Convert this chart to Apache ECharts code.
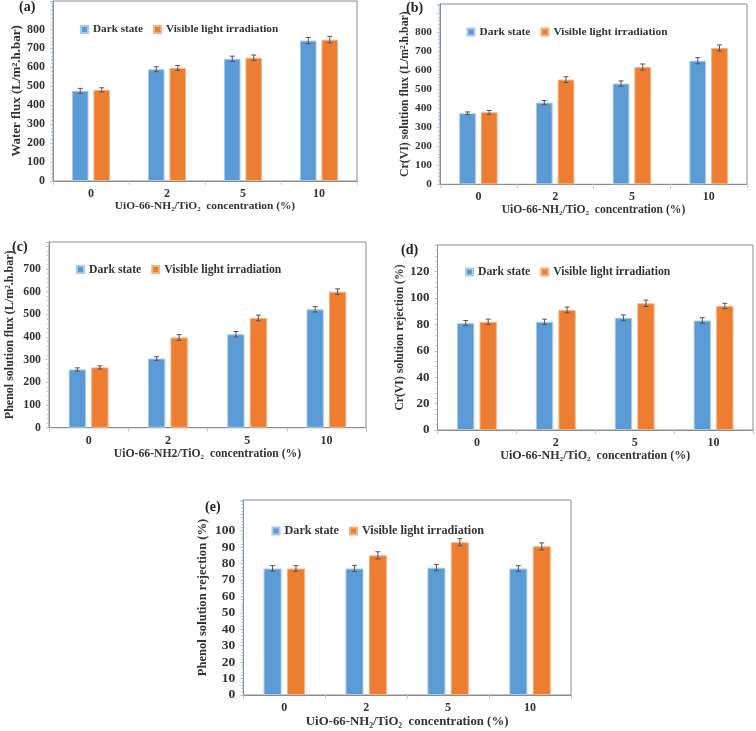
<!DOCTYPE html>
<html>
<head>
<meta charset="utf-8">
<script src="https://cdn.jsdelivr.net/npm/echarts@6/dist/echarts.min.js"></script>
<style>html,body{margin:0;padding:0;background:#fff}#c{width:756px;height:731px}</style>
</head>
<body>
<div id="c"></div>
<script>
// ---- data ----
const categories = ['0', '2', '5', '10'];
const seriesNames = ['Dark state', 'Visible light irradiation'];

const waterDark = [476, 590, 645, 741];
const waterVis = [481, 597, 651, 746];
const waterDarkErr = [13, 13, 14, 16];
const waterVisErr = [11, 13, 14, 17];

const crFluxDark = [373, 429, 529, 649];
const crFluxVis = [378, 550, 616, 716];
const crFluxDarkErr = [7, 11, 14, 16];
const crFluxVisErr = [10, 15, 16, 16];

const phFluxDark = [257, 305, 412, 522];
const phFluxVis = [266, 398, 484, 600];
const phFluxDarkErr = [7, 8, 12, 12];
const phFluxVisErr = [7, 12.5, 12.5, 12.5];

const crRejDark = [81, 82, 85, 83];
const crRejVis = [82, 91, 96, 94];
const crRejDarkErr = [2, 2, 2.2, 2.1];
const crRejVisErr = [2, 2.2, 2.4, 2];

const phRejDark = [77, 77, 77.5, 77];
const phRejVis = [77, 85, 93, 90.5];
const phRejDarkErr = [1.7, 1.9, 1.9, 1.7];
const phRejVisErr = [1.7, 2.2, 2.2, 2.1];

const panelLabels = ['(a)', '(b)', '(c)', '(d)', '(e)'];
const yTitles = [
  'Water flux (L/m\u00b2.h.bar)',
  'Cr(VI) solution flux (L/m\u00b2.h.bar)',
  'Phenol solution flux (L/m\u00b2.h.bar)',
  'Cr(VI) solution rejection (%)',
  'Phenol solution rejection (%)'
];
const xTitles = [
  'UiO-66-NH\u2082/TiO\u2082  concentration (%)',
  'UiO-66-NH\u2082/TiO\u2082  concentration (%)',
  'UiO-66-NH2/TiO\u2082  concentration (%)',
  'UiO-66-NH\u2082/TiO\u2082  concentration (%)',
  'UiO-66-NH\u2082/TiO\u2082  concentration (%)'
];
const yLabelMax = [800, 800, 700, 120, 100];
const yInterval = [100, 100, 100, 20, 10];

// ---- layout / style ----
const FONT = "'Liberation Serif', 'Times New Roman', serif";
const BLUE = '#5b9bd5', ORANGE = '#ed7d31';
const panels = [
  {dark: waterDark, vis: waterVis, de: waterDarkErr, ve: waterVisErr, grid: {left: 53, width: 304, top: 1, height: 180}, yMax: 950, bw: 16.5, nameGap: 26,
   legend: {left: 80, top: 24}, label: {left: 19, top: 0}, fs: {tick: 12, leg: 11.2, xt: 11.4, yt: 13}},
  {dark: crFluxDark, vis: crFluxVis, de: crFluxDarkErr, ve: crFluxVisErr, grid: {left: 440, width: 307, top: 4, height: 180.3}, yMax: 947, bw: 16.7, nameGap: 27,
   legend: {left: 466.5, top: 26.5}, label: {left: 406, top: 1}, fs: {tick: 11.3, leg: 11.4, xt: 11.6, yt: 11.8}},
  {dark: phFluxDark, vis: phFluxVis, de: phFluxDarkErr, ve: phFluxVisErr, grid: {left: 49, width: 317, top: 242, height: 185.7}, yMax: 819, bw: 17.3, nameGap: 33,
   legend: {left: 76, top: 263.5}, label: {left: 12, top: 240}, fs: {tick: 11.8, leg: 11.7, xt: 11.7, yt: 12}},
  {dark: crRejDark, vis: crRejVis, de: crRejDarkErr, ve: crRejVisErr, grid: {left: 437.5, width: 315.5, top: 245, height: 185}, yMax: 140.2, bw: 17.3, nameGap: 32,
   legend: {left: 465, top: 266}, label: {left: 401, top: 243}, fs: {tick: 13, leg: 11.7, xt: 12, yt: 11.7}},
  {dark: phRejDark, vis: phRejVis, de: phRejDarkErr, ve: phRejVisErr, grid: {left: 243.3, width: 327.7, top: 500, height: 195}, yMax: 118.7, bw: 18, nameGap: 34,
   legend: {left: 271.5, top: 525}, label: {left: 205, top: 500}, fs: {tick: 13.5, leg: 12.2, xt: 12.8, yt: 12.6}}
];

const option = {
  animation: false,
  backgroundColor: '#fff',
  title: [], grid: [], xAxis: [], yAxis: [], legend: [], series: []
};

panels.forEach((p, i) => {
  option.title.push({text: panelLabels[i], left: p.label.left, top: p.label.top, padding: 0,
    textStyle: {fontFamily: FONT, fontWeight: 'bold', fontSize: 14, color: '#222'}});
  option.grid.push(Object.assign({show: true, borderColor: '#8c8c8c', borderWidth: 1, backgroundColor: 'transparent'}, p.grid));
  option.xAxis.push({
    type: 'category', gridIndex: i, data: categories,
    name: xTitles[i], nameLocation: 'middle', nameGap: 19,
    nameTextStyle: {fontFamily: FONT, fontWeight: 'bold', fontSize: p.fs.xt, color: '#333'},
    axisLine: {lineStyle: {color: '#8c8c8c'}},
    axisTick: {show: true, length: 4, lineStyle: {color: '#c8c8c8'}},
    axisLabel: {margin: 7, fontFamily: FONT, fontWeight: 'bold', fontSize: 12, color: '#333'}
  });
  const lm = yLabelMax[i];
  option.yAxis.push({
    type: 'value', gridIndex: i, min: 0, max: p.yMax, interval: yInterval[i],
    name: yTitles[i], nameLocation: 'middle', nameGap: p.nameGap,
    nameTextStyle: {fontFamily: FONT, fontWeight: 'bold', fontSize: p.fs.yt, color: '#333'},
    axisLine: {show: true, lineStyle: {color: '#8c8c8c'}},
    axisTick: {show: true, length: 3, lineStyle: {color: '#9dc3e6'}},
    minorTick: {show: true, splitNumber: 5, length: 2, lineStyle: {color: '#9dc3e6'}},
    splitLine: {show: false},
    axisLabel: {margin: 8, fontFamily: FONT, fontWeight: 'bold', fontSize: p.fs.tick, color: '#333',
      formatter: v => (v > lm + 1e-9 ? '' : String(v))}
  });
  option.legend.push({
    data: seriesNames, left: p.legend.left, top: p.legend.top, orient: 'horizontal', padding: 0,
    icon: 'rect', itemWidth: 7, itemHeight: 7, itemGap: 10, selectedMode: false,
    textStyle: {fontFamily: FONT, fontWeight: 'bold', fontSize: p.fs.leg, color: '#333'}
  });
  const gap = 0.3;
  option.series.push({
    type: 'bar', name: seriesNames[0], xAxisIndex: i, yAxisIndex: i, data: p.dark,
    barWidth: p.bw, barGap: (gap * 100) + '%',
    itemStyle: {color: BLUE, borderColor: '#a9c9ea', borderWidth: 1}
  });
  option.series.push({
    type: 'bar', name: seriesNames[1], xAxisIndex: i, yAxisIndex: i, data: p.vis,
    barWidth: p.bw, barGap: (gap * 100) + '%',
    itemStyle: {color: ORANGE, borderColor: '#f4b183', borderWidth: 1}
  });
  [[p.dark, p.de, -1], [p.vis, p.ve, 1]].forEach(([vals, errs, sign], k) => {
    const off = sign * p.bw * (1 + gap) / 2;
    option.series.push({
      type: 'custom', name: 'err' + i + '_' + k, xAxisIndex: i, yAxisIndex: i, z: 5,
      encode: {x: 0, y: 1},
      data: vals.map((v, j) => [j, v, errs[j]]),
      renderItem: (params, api) => {
        const j = api.value(0), v = api.value(1), e = api.value(2);
        const hi = api.coord([j, v + e]);
        const lo = api.coord([j, v - e]);
        const x = hi[0] + off;
        const cap = 2.5;
        const st = {stroke: '#555', lineWidth: 1};
        return {type: 'group', children: [
          {type: 'line', shape: {x1: x, y1: hi[1], x2: x, y2: lo[1]}, style: st},
          {type: 'line', shape: {x1: x - cap, y1: hi[1], x2: x + cap, y2: hi[1]}, style: st},
          {type: 'line', shape: {x1: x - cap, y1: lo[1], x2: x + cap, y2: lo[1]}, style: st}
        ]};
      }
    });
  });
});

const chart = echarts.init(document.getElementById('c'), null, {renderer: 'canvas'});
chart.setOption(option);
</script>
</body>
</html>
